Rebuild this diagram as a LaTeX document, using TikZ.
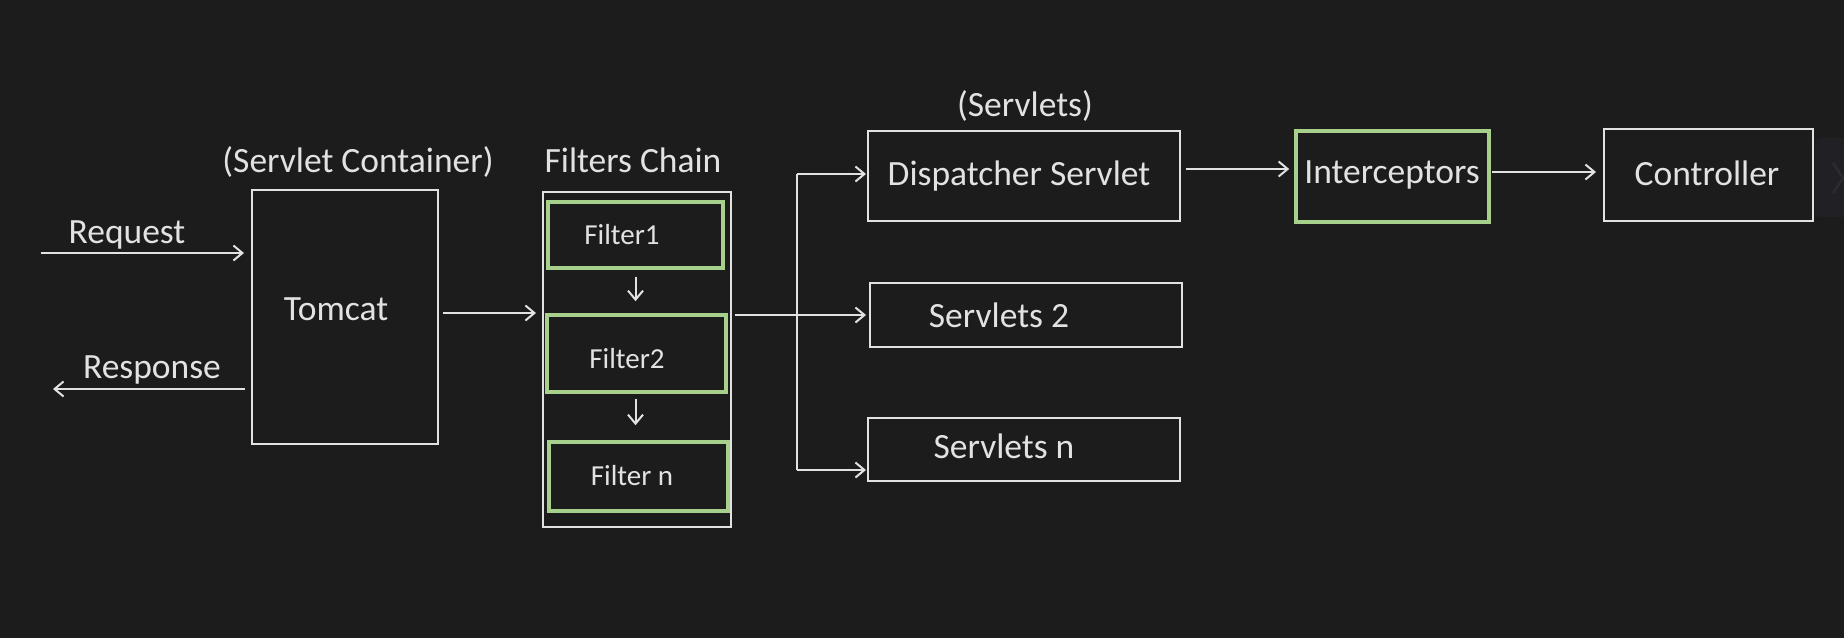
\documentclass[tikz,border=0pt]{standalone}
\usepackage{fontspec}
\setmainfont{Carlito}
\usetikzlibrary{arrows.meta}
\definecolor{bgc}{HTML}{1C1C1C}
\definecolor{wln}{HTML}{E2E2E2}
\definecolor{grn}{HTML}{A8D08D}
\definecolor{ghost}{HTML}{212125}
\definecolor{ghostln}{HTML}{2B2B30}
\tikzset{
  box/.style={draw=wln, line width=2pt, rectangle, inner sep=0pt},
  gbox/.style={draw=grn, line width=3.6pt, rectangle, inner sep=0pt},
  txt/.style={text=wln, anchor=base, inner sep=0pt, font=\fontsize{35.5pt}{40pt}\selectfont},
  ftxt/.style={text=wln, anchor=base, inner sep=0pt, font=\fontsize{29pt}{33pt}\selectfont},
  conn/.style={draw=wln, line width=2pt},
  arr/.style={conn, -{Straight Barb[length=9pt,width=15pt]}},
}
\begin{document}
\begin{tikzpicture}[x=1pt,y=-1pt]
\useasboundingbox (0,0) rectangle (1844,638);
\fill[bgc] (0,0) rectangle (1844,638);
% faint UI artefact at the right edge
\fill[ghost, rounded corners=6pt] (1815,138) rectangle (1870,217);
\draw[ghostln, line width=2.5pt] (1833,163) -- (1843,178) -- (1833,193);

% boxes
\node[box, minimum width=186pt, minimum height=254pt] (tomcat) at (345,317) {};
\node[box, minimum width=188pt, minimum height=335pt] (chain) at (637,359.5) {};
\node[gbox, minimum width=175pt, minimum height=66pt] (f1) at (635.5,235) {};
\node[gbox, minimum width=179pt, minimum height=77pt] (f2) at (636.5,353.5) {};
\node[gbox, minimum width=179pt, minimum height=69pt] (fn) at (638.5,476.5) {};
\node[box, minimum width=312pt, minimum height=90pt] (disp) at (1024,176) {};
\node[box, minimum width=312pt, minimum height=64pt] (s2) at (1026,315) {};
\node[box, minimum width=312pt, minimum height=63pt] (sn) at (1024,449.5) {};
\node[gbox, minimum width=193pt, minimum height=91pt] (inter) at (1392.5,176.5) {};
\node[box, minimum width=209pt, minimum height=92pt] (ctrl) at (1708.5,175) {};

% texts
\node[txt] (lreq) at (127,243) {Request};
\node[txt] (lresp) at (152,378) {Response};
\node[txt] (ltom) at (336,320) {Tomcat};
\node[txt] (lcont) at (358,172) {(Servlet Container)};
\node[txt] (lchain) at (633,172) {Filters Chain};
\node[ftxt] (lf1) at (622,244) {Filter1};
\node[ftxt] (lf2) at (627,368) {Filter2};
\node[ftxt] (lfn) at (632,485) {Filter n};
\node[txt] (lsvs) at (1025,116) {(Servlets)};
\node[txt] (ldisp) at (1019,185) {Dispatcher Servlet};
\node[txt] (ls2) at (999,327) {Servlets 2};
\node[txt] (lsn) at (1004,458) {Servlets n};
\node[txt] (lint) at (1392,183) {Interceptors};
\node[txt] (lctrl) at (1707,185) {Controller};

% connectors
\coordinate (reqs) at (41,253);
\coordinate (resend) at (53,389);
\draw[arr, shorten >=7pt] (reqs) -- (reqs -| tomcat.west);
\draw[arr, shorten <=6pt] (resend -| tomcat.west) -- (resend);
\coordinate (tc) at (0,313);
\draw[arr, shorten <=4pt, shorten >=6pt] (tc -| tomcat.east) -- (tc -| chain.west);
\draw[arr, shorten <=7pt, shorten >=12pt] (f1.south) -- (f1.south |- f2.north);
\draw[arr, shorten <=5pt, shorten >=15pt] (f2.south -| f1.south) -- (f1.south |- fn.north);
\coordinate (cs) at (0,315);
\draw[arr, shorten <=3pt, shorten >=3pt] (cs -| chain.east) -- (cs -| s2.west);
\coordinate (jt) at (797,174);
\coordinate (jb) at (797,470);
\draw[conn] (jt) -- (jb);
\draw[arr, shorten >=1pt] (jt) -- (jt -| disp.west);
\draw[arr, shorten >=1pt] (jb) -- (jb -| sn.west);
\coordinate (di) at (0,169);
\draw[arr, shorten <=5pt, shorten >=5pt] (di -| disp.east) -- (di -| inter.west);
\coordinate (ic) at (0,172);
\draw[arr, shorten <=1pt, shorten >=7pt] (ic -| inter.east) -- (ic -| ctrl.west);
\end{tikzpicture}
\end{document}
